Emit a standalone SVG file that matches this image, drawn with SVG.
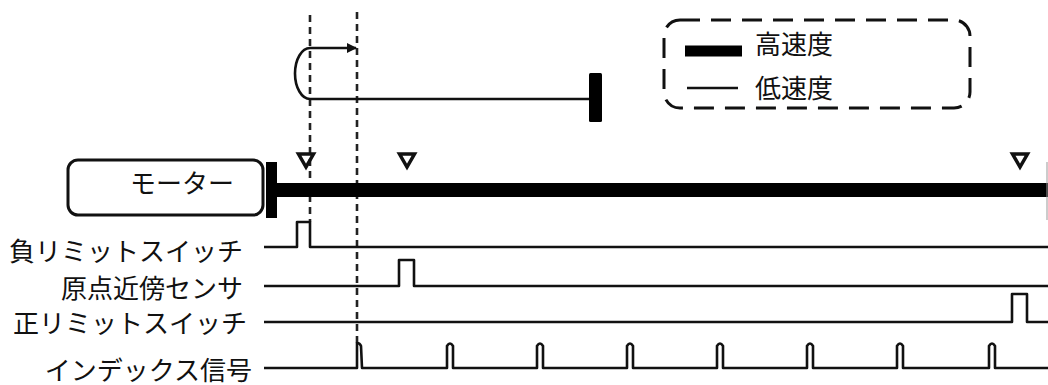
<svg xmlns="http://www.w3.org/2000/svg" width="1048" height="385" viewBox="0 0 1048 385">
<style>
  .lbl{font-family:"Noto Sans CJK JP","Noto Sans",sans-serif;font-size:26px;fill:#111}
  .sig{fill:none;stroke:#111;stroke-width:2.6;stroke-linejoin:round}
  .dash{fill:none;stroke:#222;stroke-width:2.6;stroke-dasharray:7 5}
  .tri{fill:none;stroke:#111;stroke-width:3.5;stroke-linejoin:miter}
</style>
<defs>
  <marker id="ah" viewBox="0 0 10 10" refX="9" refY="5" markerWidth="15" markerHeight="10" markerUnits="userSpaceOnUse" orient="auto">
    <path d="M0,0 L10,5 L0,10 z" fill="#111"/>
  </marker>
</defs>
<rect width="1048" height="385" fill="#fff"/>

<g id="guides">
  <line class="dash" x1="310" y1="15" x2="310" y2="222"/>
  <line class="dash" x1="357" y1="12" x2="357" y2="343"/>
</g>

<g id="legend">
  <rect x="664" y="20" width="306" height="88" rx="16" fill="none" stroke="#111" stroke-width="3" stroke-dasharray="20 11"/>
  <line x1="685" y1="51" x2="742" y2="51" stroke="#000" stroke-width="11"/>
  <text class="lbl" x="755" y="54">高速度</text>
  <line x1="687" y1="88" x2="738" y2="88" stroke="#111" stroke-width="2.5"/>
  <text class="lbl" x="755" y="98">低速度</text>
</g>

<g id="motor">
  <rect x="68" y="160" width="195" height="55" rx="10" fill="#fff" stroke="#111" stroke-width="3"/>
  <text class="lbl" x="182" y="193" text-anchor="middle">モーター</text>
  <rect x="266" y="162" width="11" height="56" fill="#000"/>
</g>

<g id="connectors">
  <line x1="276" y1="190" x2="1048" y2="190" stroke="#000" stroke-width="14"/>
  <path d="M595,99 L310,99 A15 25.5 0 0 1 310,48 L356,48" fill="none" stroke="#111" stroke-width="2.6" marker-end="url(#ah)"/>
  <rect x="589" y="73" width="13" height="49" rx="1.5" fill="#000"/>
  <line x1="1047" y1="162" x2="1047" y2="220" stroke="#999" stroke-width="1"/>
</g>

<g id="markers">
  <polygon class="tri" points="298.5,154 313.5,154 306,167"/>
  <polygon class="tri" points="399.5,154 414.5,154 407,167"/>
  <polygon class="tri" points="1012.5,154 1027.5,154 1020,167"/>
</g>

<g id="neg-limit">
  <text class="lbl" x="243" y="261" text-anchor="end">負リミットスイッチ</text>
  <path class="sig" d="M264,247 L297,247 L297,222 L310,222 L310,247 L1048,247"/>
</g>

<g id="home-sensor">
  <text class="lbl" x="243" y="298" text-anchor="end">原点近傍センサ</text>
  <path class="sig" d="M264,286 L399,286 L399,260 L414,260 L414,286 L1048,286"/>
</g>

<g id="pos-limit">
  <text class="lbl" x="247" y="333" text-anchor="end">正リミットスイッチ</text>
  <path class="sig" d="M264,322 L1012,322 L1012,294 L1027,294 L1027,322 L1048,322"/>
</g>

<g id="index">
  <text class="lbl" x="252" y="380" text-anchor="end">インデックス信号</text>
  <path class="sig" d="M264,368 L357,368 L357,343 Q360,343 361,346 L362,368
    L447,368 L447,346 Q450,341 453,346 L453,368
    L537,368 L537,346 Q540,341 543,346 L543,368
    L627,368 L627,346 Q630,341 633,346 L633,368
    L717,368 L717,346 Q720,341 723,346 L723,368
    L807,368 L807,346 Q810,341 813,346 L813,368
    L897,368 L897,346 Q900,341 903,346 L903,368
    L989,368 L989,346 Q992,341 995,346 L995,368 L1048,368"/>
</g>
</svg>
